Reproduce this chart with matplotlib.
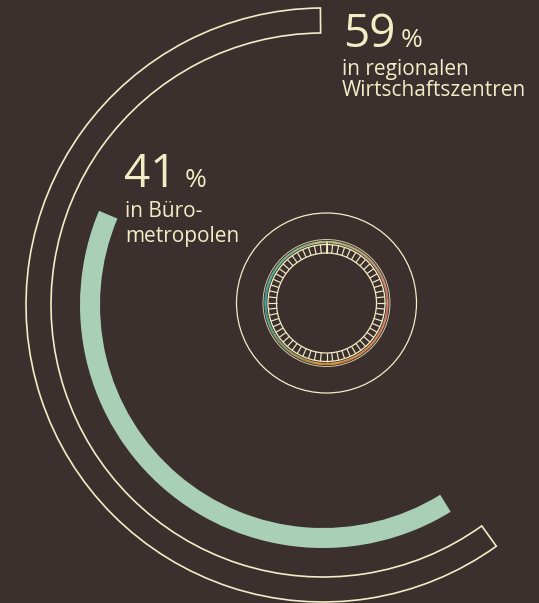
import matplotlib
matplotlib.use('Agg')
import matplotlib.pyplot as plt
from matplotlib.patches import Wedge, Circle
from matplotlib.collections import LineCollection
from matplotlib.colors import LinearSegmentedColormap
import numpy as np

# Daten
anteile = [59, 41]
zahlen = ["59", "41"]
zeilen_oben = ["in regionalen", "Wirtschaftszentren"]
zeilen_unten = ["in Büro-", "metropolen"]

hintergrund = "#3b302e"
creme = "#f4ecc4"
gruen = "#a9d0b6"

W, H = 539, 603
fig = plt.figure(figsize=(W / 100, H / 100), dpi=100, facecolor=hintergrund)
ax = fig.add_axes([0, 0, 1, 1])
ax.set_xlim(0, W)
ax.set_ylim(0, H)
ax.axis('off')
ax.set_facecolor(hintergrund)

def y(v):
    # Bildkoordinate (von oben) in Achsenkoordinate
    return H - v

# große Bögen
cx, cy = 323, y(305)
grad_pro_prozent = 3.6

# 59 % - Umriss, beginnt oben, läuft gegen den Uhrzeigersinn
start_aussen = 90.5
ende_aussen = start_aussen + anteile[0] * grad_pro_prozent + 2.8
ax.add_patch(Wedge((cx, cy), 297, start_aussen, ende_aussen, width=25,
                   fill=False, edgecolor=creme, lw=1.2))

# 41 % - grüner Bogen
ende_gruen = 301.7
start_gruen = ende_gruen - anteile[1] * grad_pro_prozent + 3.1
ax.add_patch(Wedge((cx, cy), 243, start_gruen, ende_gruen, width=20,
                   facecolor=gruen, edgecolor='none'))

# kleiner Ring in der Mitte
kx, ky = 326.5, y(303)
ax.add_patch(Circle((kx, ky), 90, fill=False, edgecolor=creme, lw=0.9))
ax.add_patch(Circle((kx, ky), 50, fill=False, edgecolor=creme, lw=0.9))
ax.add_patch(Circle((kx, ky), 58.5, fill=False, edgecolor=creme, lw=0.9))
ax.add_patch(Circle((kx, ky), 63.5, fill=False, edgecolor=creme, lw=0.7, alpha=0.8))

n_striche = 60
winkel = np.radians(90 + np.arange(n_striche) * 360 / n_striche)
striche = [[(kx + 50 * np.cos(w), ky + 50 * np.sin(w)),
            (kx + 58.5 * np.cos(w), ky + 58.5 * np.sin(w))] for w in winkel]
ax.add_collection(LineCollection(striche, colors=creme, linewidths=0.85))
ax.plot([kx, kx], [ky + 50, ky + 61], color=creme, lw=1.3)

# Farbverlauf-Ring
verlauf = LinearSegmentedColormap.from_list(
    "ring", ["#dc8c7c", "#c9d68a", "#3ab5ae", "#f4a038", "#dc8c7c"])
t = np.linspace(0, 2 * np.pi, 361)
segmente = [[(kx + 61 * np.cos(a), ky + 61 * np.sin(a)),
             (kx + 61 * np.cos(b), ky + 61 * np.sin(b))] for a, b in zip(t[:-1], t[1:])]
ax.add_collection(LineCollection(segmente, colors=verlauf(t[:-1] / (2 * np.pi)),
                                 linewidths=1.6))

# Texte
schrift = "Open Sans"
ax.text(343, y(47), zahlen[0], color=creme, fontsize=33, family=schrift,
        ha='left', va='baseline')
ax.text(401, y(47), "%", color=creme, fontsize=19, family=schrift,
        ha='left', va='baseline')
ax.text(342, y(75), zeilen_oben[0], color=creme, fontsize=15, family=schrift,
        ha='left', va='baseline')
ax.text(342, y(96), zeilen_oben[1], color=creme, fontsize=15, family=schrift,
        ha='left', va='baseline')

ax.text(124, y(187), zahlen[1], color=creme, fontsize=33, family=schrift,
        ha='left', va='baseline')
ax.text(185, y(187), "%", color=creme, fontsize=19, family=schrift,
        ha='left', va='baseline')
ax.text(125, y(217), zeilen_unten[0], color=creme, fontsize=15, family=schrift,
        ha='left', va='baseline')
ax.text(125, y(242), zeilen_unten[1], color=creme, fontsize=15, family=schrift,
        ha='left', va='baseline')

fig.savefig("out.png", dpi=100, facecolor=hintergrund)
